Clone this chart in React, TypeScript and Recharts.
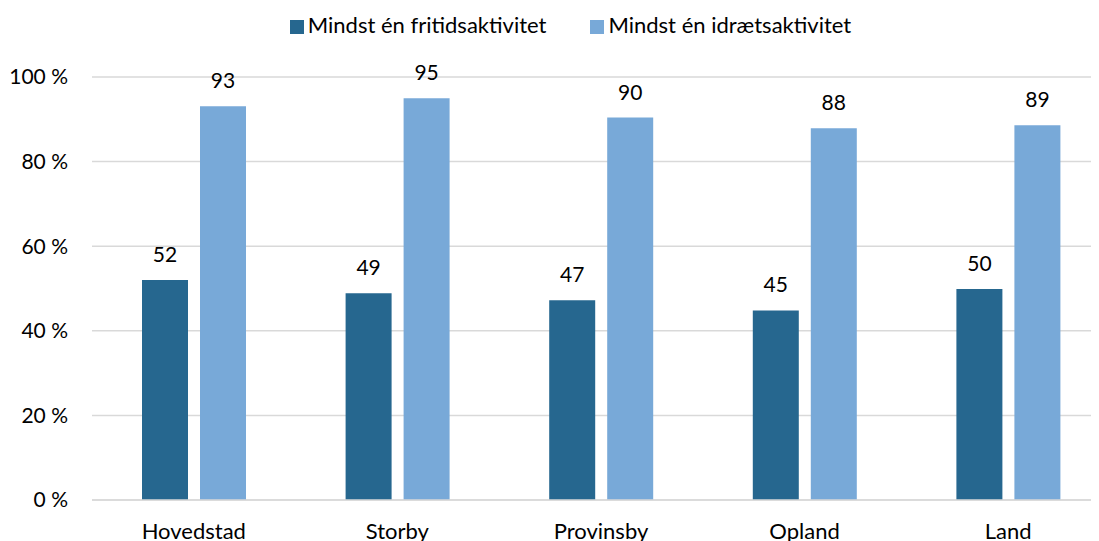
import React from 'react';
import { BarChart, Bar, XAxis, YAxis, CartesianGrid, Legend, LabelList } from 'recharts';

const categories = ['Hovedstad', 'Storby', 'Provinsby', 'Opland', 'Land'];
const fritid = [52.0, 48.9, 47.2, 44.8, 49.9];
const idraet = [93.1, 95.0, 90.4, 87.9, 88.6];
const yTicks = [0, 20, 40, 60, 80, 100];
const seriesNames = ['Mindst én fritidsaktivitet', 'Mindst én idrætsaktivitet'];

const data = categories.map((c, i) => ({ name: c, fritid: fritid[i], idraet: idraet[i] }));

const FONT = 'Lato, "DejaVu Sans", sans-serif';
const DARK = '#26678f';
const LIGHT = '#78a9d8';

export default function App() {
  return (
    <div style={{ width: 1091, height: 533, overflow: 'hidden', fontFamily: FONT }}>
      <BarChart
        width={1102}
        height={533}
        data={data}
        margin={{ top: 69, right: 0, bottom: 11, left: 4 }}
        barCategoryGap={50}
        barGap={12}
      >
        <CartesianGrid vertical={false} stroke="#d9d9d9" strokeWidth={1.5} />
        <XAxis
          dataKey="name"
          height={30}
          tickLine={false}
          axisLine={{ stroke: '#d9d9d9', strokeWidth: 1.5 }}
          tickSize={0}
          tickMargin={23}
          tick={{ fill: '#000', fontSize: 22, fontFamily: FONT }}
        />
        <YAxis
          width={80}
          domain={[0, 100]}
          ticks={yTicks}
          tickFormatter={(v: number) => `${v} %`}
          tickLine={false}
          axisLine={false}
          tickSize={0}
          tickMargin={24}
          tick={{ fill: '#000', fontSize: 21, fontFamily: FONT }}
        />
        <Legend
          verticalAlign="middle"
          align="center"
          iconType="square"
          iconSize={14}
          wrapperStyle={{ top: 3, left: 0, width: 1135, fontFamily: FONT, fontSize: 22 }}
          formatter={(v: string, _e: any, i: number) => (
            <span style={{ color: '#000', marginRight: i === 0 ? 34 : 0 }}>{v}</span>
          )}
        />
        <Bar dataKey="fritid" name={seriesNames[0]} fill={DARK} isAnimationActive={false}>
          <LabelList
            dataKey="fritid"
            position="top"
            offset={18}
            formatter={(v: number) => Math.round(v)}
            style={{ fill: '#000', fontSize: 21, fontFamily: FONT }}
          />
        </Bar>
        <Bar dataKey="idraet" name={seriesNames[1]} fill={LIGHT} isAnimationActive={false}>
          <LabelList
            dataKey="idraet"
            position="top"
            offset={18}
            formatter={(v: number) => Math.round(v)}
            style={{ fill: '#000', fontSize: 21, fontFamily: FONT }}
          />
        </Bar>
      </BarChart>
    </div>
  );
}
